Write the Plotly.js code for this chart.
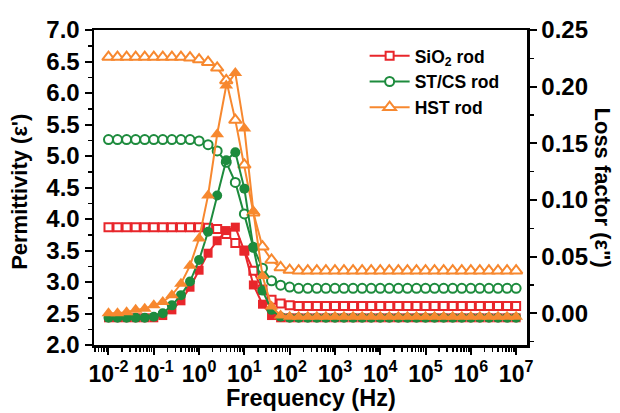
<!DOCTYPE html>
<html><head><meta charset="utf-8">
<script src="https://cdn.plot.ly/plotly-3.0.1.min.js"></script>
<style>html,body{margin:0;padding:0;background:#fff}#chart{width:620px;height:413px}</style>
</head><body><div id="chart"></div>
<script>
// Frequency (Hz), 5 points per decade
const freq = [0.01, 0.0158, 0.0251, 0.0398, 0.0631, 0.1, 0.158, 0.251, 0.398, 0.631,
  1, 1.58, 2.51, 3.98, 6.31, 10, 15.8, 25.1, 39.8, 63.1,
  100, 158, 251, 398, 631, 1e3, 1.58e3, 2.51e3, 3.98e3, 6.31e3,
  1e4, 1.58e4, 2.51e4, 3.98e4, 6.31e4, 1e5, 1.58e5, 2.51e5, 3.98e5, 6.31e5,
  1e6, 1.58e6, 2.51e6, 3.98e6, 6.31e6, 1e7];

// Permittivity (ε') – open markers, left axis
const sio2Perm = [3.87, 3.87, 3.87, 3.87, 3.87, 3.87, 3.87, 3.87, 3.87, 3.87,
  3.87, 3.86, 3.84, 3.76, 3.62, 3.50, 3.18, 2.88, 2.72, 2.66,
  2.63, 2.62, 2.62, 2.62, 2.62, 2.62, 2.62, 2.62, 2.62, 2.62,
  2.62, 2.62, 2.62, 2.62, 2.62, 2.62, 2.62, 2.62, 2.62, 2.62,
  2.62, 2.62, 2.62, 2.62, 2.62, 2.62];
const stcsPerm = [5.26, 5.26, 5.26, 5.26, 5.26, 5.26, 5.26, 5.26, 5.26, 5.26,
  5.24, 5.18, 5.08, 4.90, 4.58, 4.08, 3.55, 3.22, 3.02, 2.95,
  2.92, 2.90, 2.90, 2.90, 2.90, 2.90, 2.90, 2.90, 2.90, 2.90,
  2.90, 2.90, 2.90, 2.90, 2.90, 2.90, 2.90, 2.90, 2.90, 2.90,
  2.90, 2.90, 2.90, 2.90, 2.90, 2.90];
const hstPerm = [6.57, 6.57, 6.57, 6.57, 6.57, 6.57, 6.57, 6.57, 6.57, 6.56,
  6.53, 6.49, 6.40, 6.20, 5.57, 4.86, 4.10, 3.56, 3.35, 3.23,
  3.19, 3.18, 3.18, 3.18, 3.18, 3.18, 3.18, 3.18, 3.18, 3.18,
  3.18, 3.18, 3.18, 3.18, 3.18, 3.18, 3.18, 3.18, 3.18, 3.18,
  3.18, 3.18, 3.18, 3.18, 3.18, 3.18];

// Loss factor (ε'') – filled markers, right axis
const sio2Loss = [-0.004, -0.004, -0.004, -0.004, -0.004, -0.004, -0.002, 0.003, 0.011, 0.023,
  0.038, 0.053, 0.064, 0.073, 0.076, 0.055, 0.025, 0.008, -0.002, -0.004,
  -0.004, -0.004, -0.004, -0.004, -0.004, -0.004, -0.004, -0.004, -0.004, -0.004,
  -0.004, -0.004, -0.004, -0.004, -0.004, -0.004, -0.004, -0.004, -0.004, -0.004,
  -0.004, -0.004, -0.004, -0.004, -0.004, -0.004];
const stcsLoss = [-0.004, -0.004, -0.004, -0.004, -0.004, -0.003, 0.000, 0.007, 0.016, 0.028,
  0.047, 0.072, 0.104, 0.135, 0.142, 0.110, 0.058, 0.020, 0.003, -0.003,
  -0.004, -0.004, -0.004, -0.004, -0.004, -0.004, -0.004, -0.004, -0.004, -0.004,
  -0.004, -0.004, -0.004, -0.004, -0.004, -0.004, -0.004, -0.004, -0.004, -0.004,
  -0.004, -0.004, -0.004, -0.004, -0.004, -0.004];
const hstLoss = [0.000, 0.000, 0.001, 0.003, 0.004, 0.007, 0.010, 0.016, 0.026, 0.042,
  0.066, 0.104, 0.158, 0.201, 0.212, 0.163, 0.090, 0.033, 0.006, -0.002,
  -0.003, -0.003, -0.003, -0.003, -0.003, -0.003, -0.003, -0.003, -0.003, -0.003,
  -0.003, -0.003, -0.003, -0.003, -0.003, -0.003, -0.003, -0.003, -0.003, -0.003,
  -0.003, -0.003, -0.003, -0.003, -0.003, -0.003];

const seriesNames = ['SiO<sub>2</sub> rod', 'ST/CS rod', 'HST rod'];
const xTickVals = [1e-2, 1e-1, 1e0, 1e1, 1e2, 1e3, 1e4, 1e5, 1e6, 1e7];
const xTickText = ['10<sup>-2</sup>', '10<sup>-1</sup>', '10<sup>0</sup>', '10<sup>1</sup>', '10<sup>2</sup>',
  '10<sup>3</sup>', '10<sup>4</sup>', '10<sup>5</sup>', '10<sup>6</sup>', '10<sup>7</sup>'];

const RED = '#e8262b', GREEN = '#1d8b3d', ORANGE = '#f7882f';

const minorVals = [];
for (let d = -3; d <= 7; d++) for (let m = 2; m <= 9; m++) minorVals.push(m * Math.pow(10, d));

function permTrace(y, name, color, symbol, size) {
  return {x: freq, y: y, name: name, type: 'scatter', mode: 'lines+markers', yaxis: 'y',
    line: {color: color, width: 2},
    marker: {symbol: symbol, size: size, color: '#ffffff', line: {color: color, width: 2}}};
}
function lossTrace(y, name, color, symbol, size) {
  return {x: freq, y: y, name: name, type: 'scatter', mode: 'lines+markers', yaxis: 'y2', showlegend: false,
    line: {color: color, width: 2},
    marker: {symbol: symbol, size: size, color: color, line: {width: 0}}};
}

const data = [
  permTrace(sio2Perm, seriesNames[0], RED, 'square', 8),
  permTrace(stcsPerm, seriesNames[1], GREEN, 'circle', 9),
  permTrace(hstPerm, seriesNames[2], ORANGE, 'triangle-up', 11),
  lossTrace(sio2Loss, seriesNames[0], RED, 'square', 9),
  lossTrace(stcsLoss, seriesNames[1], GREEN, 'circle', 10),
  lossTrace(hstLoss, seriesNames[2], ORANGE, 'triangle-up', 12)
];

const FAM = 'Liberation Sans, Arial, sans-serif';
const yFont = {family: FAM, size: 24, color: '#000', weight: 'bold'};
const xFont = {family: FAM, size: 23, color: '#000', weight: 'bold'};
const titleFont = {family: FAM, size: 22, color: '#000', weight: 'bold'};
const xTitleFont = {family: FAM, size: 23.5, color: '#000', weight: 'bold'};

const layout = {
  width: 620, height: 413,
  margin: {l: 94, r: 93, t: 30, b: 68},
  paper_bgcolor: '#ffffff', plot_bgcolor: '#ffffff',
  font: {family: FAM, color: '#000'},
  showlegend: true,
  legend: {x: 0.625, y: 0.975, xanchor: 'left', yanchor: 'top', bgcolor: 'rgba(0,0,0,0)',
    font: {family: FAM, size: 17.5, color: '#000', weight: 'bold'},
    itemwidth: 40, tracegroupgap: 0},
  xaxis: {type: 'log', range: [-2.32, 7.24], tickmode: 'array', tickvals: xTickVals, ticktext: xTickText,
    ticks: 'outside', ticklen: 7, tickwidth: 2, tickcolor: '#000',
    showline: true, linewidth: 2.5, linecolor: '#000', mirror: true, showgrid: false, zeroline: false,
    tickfont: xFont,
    minor: {tickmode: 'array', tickvals: minorVals, ticks: 'outside', ticklen: 4, tickwidth: 1.5, tickcolor: '#000', showgrid: false}},
  yaxis: {range: [2, 7], tick0: 2, dtick: 0.5, tickformat: '.1f',
    ticks: 'outside', ticklen: 7, tickwidth: 2, tickcolor: '#000',
    showline: true, linewidth: 2.5, linecolor: '#000', showgrid: false, zeroline: false,
    tickfont: yFont,
    minor: {dtick: 0.25, ticks: 'outside', ticklen: 4, tickwidth: 1.5, tickcolor: '#000', showgrid: false}},
  yaxis2: {overlaying: 'y', side: 'right', range: [-0.028, 0.25], tick0: 0, dtick: 0.05, tickformat: '.2f',
    ticks: 'outside', ticklen: 7, tickwidth: 2, tickcolor: '#000',
    showline: true, linewidth: 2.5, linecolor: '#000', showgrid: false, zeroline: false,
    tickfont: yFont,
    minor: {dtick: 0.025, tick0: 0, ticks: 'outside', ticklen: 4, tickwidth: 1.5, tickcolor: '#000', showgrid: false}},
  annotations: [
    {text: 'Frequency (Hz)', xref: 'paper', yref: 'paper', x: 0.5, y: -0.168, xanchor: 'center', yanchor: 'middle',
      showarrow: false, font: xTitleFont},
    {text: "Permittivity (ε')", xref: 'paper', yref: 'paper', x: -0.171, y: 0.486, xanchor: 'center', yanchor: 'middle',
      textangle: -90, showarrow: false, font: titleFont},
    {text: 'Loss factor (ε")', xref: 'paper', yref: 'paper', x: 1.1755, y: 0.5, xanchor: 'center', yanchor: 'middle',
      textangle: 90, showarrow: false, font: titleFont}
  ]
};

Plotly.newPlot('chart', data, layout, {staticPlot: true, displayModeBar: false});
</script>
</body></html>
